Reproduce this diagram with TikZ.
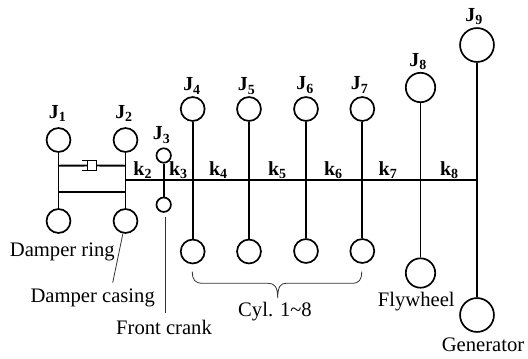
\documentclass[tikz,border=0pt]{standalone}
\usepackage{fontspec}
\setmainfont{Liberation Serif}
\usepackage{tikz}
\usetikzlibrary{calc}
\tikzset{
  disc/.style={circle, draw, line width=1.7pt, inner sep=0pt, fill=white},
  bigdisc/.style={disc, minimum size=24pt},
  smalldisc/.style={disc, minimum size=14.5pt},
  lab/.style={font=\fontsize{20.7}{22}\selectfont, inner sep=0pt},
  inertia/.style={font=\bfseries\fontsize{20}{22}\selectfont, inner sep=0pt},
  stiff/.style={font=\bfseries\fontsize{20}{22}\selectfont, inner sep=0pt},
  shaft/.style={line width=1.9pt},
  leader/.style={line width=0.8pt, black!80}
}
\begin{document}
\begin{tikzpicture}[x=1bp, y=-1bp]
\useasboundingbox (0,0) rectangle (528,358);
%shaft
\coordinate (shaftl) at (125.5,180.3);
\coordinate (shaftr) at (477,180.3);
\draw[shaft] (shaftl) -- (shaftr);
%upper discs
\node[bigdisc] (j1) at (58.5,140) {};
\node[bigdisc] (j2) at (125.5,140) {};
\node[smalldisc] (j3) at (163.7,155.5) {};
\node[bigdisc] (j4) at (192.7,109) {};
\node[bigdisc] (j5) at (249,109) {};
\node[bigdisc] (j6) at (306,109) {};
\node[bigdisc] (j7) at (362.3,109) {};
\node[disc, minimum size=29.5pt] (j8) at (420.5,87.5) {};
\node[disc, minimum size=34pt] (j9) at (477,45) {};
%lower discs
\node[bigdisc] (r1) at (58.5,221) {};
\node[bigdisc] (r2) at (125.5,221) {};
\node[smalldisc] (r3) at (163.7,204.7) {};
\node[bigdisc] (r4) at (192.7,251.5) {};
\node[bigdisc] (r5) at (249,251.5) {};
\node[bigdisc] (r6) at (306,251) {};
\node[bigdisc] (r7) at (362.3,251) {};
\node[disc, minimum size=29.5pt] (r8) at (420.5,273) {};
\node[disc, minimum size=34pt] (r9) at (477,315) {};
%vertical shafts
\foreach \n in {1,...,9}
  \draw[shaft] (j\n) -- (r\n);
%damper
\coordinate (d1t) at (58.5,165.7);
\coordinate (d2t) at (125.5,165.7);
\coordinate (d1b) at (58.5,192.3);
\coordinate (d2b) at (125.5,192.3);
\node[draw, line width=1.1pt, fill=white, minimum width=9pt, minimum height=9.5pt, inner sep=0pt] (cup) at (92,165.5) {};
\draw[shaft] (d1t) -- (cup) (cup) -- (d2t);
\draw[shaft] (d1b) -- (d2b);
\draw[line width=1.1pt] ($(cup.north west)+(-5,0)$) -- (cup.north west) ($(cup.south west)+(-5,0)$) -- (cup.south west);
%J labels
\node[inertia] (lj1) at (57.7,113.5) {J\textsubscript{1}};
\node[inertia] (lj2) at (124,113.5) {J\textsubscript{2}};
\node[inertia] (lj3) at (161.7,135) {J\textsubscript{3}};
\node[inertia] (lj4) at (192,86) {J\textsubscript{4}};
\node[inertia] (lj5) at (246.7,86) {J\textsubscript{5}};
\node[inertia] (lj6) at (305,85) {J\textsubscript{6}};
\node[inertia] (lj7) at (359.7,85) {J\textsubscript{7}};
\node[inertia] (lj8) at (418,61.7) {J\textsubscript{8}};
\node[inertia] (lj9) at (474,16.7) {J\textsubscript{9}};
%k labels
\node[stiff] (k2) at (142.7,170) {k\textsubscript{2}};
\node[stiff] (k3) at (178.3,170) {k\textsubscript{3}};
\node[stiff] (k4) at (218.3,170.5) {k\textsubscript{4}};
\node[stiff] (k5) at (277.3,170) {k\textsubscript{5}};
\node[stiff] (k6) at (333.3,170) {k\textsubscript{6}};
\node[stiff] (k7) at (388,170) {k\textsubscript{7}};
\node[stiff] (k8) at (449.3,170.5) {k\textsubscript{8}};
%names
\node[lab] (ring) at (62.3,252.3) {Damper ring};
\node[lab] (casing) at (92.7,298) {Damper casing};
\node[lab] (crank) at (164,327) {Front crank};
\node[lab] (cyl) at (275,311.7) {Cyl. 1\textasciitilde8};
\node[lab] (fly) at (416.3,301.7) {Flywheel};
\node[lab] (gen) at (483,345) {Generator};
%leaders
\coordinate (casingend) at (112.7,282.7);
\draw[leader] (r2) -- (casingend);
\coordinate (crankend) at (165,313.3);
\coordinate (crankstart) at (165,216.7);
\draw[leader] (crankstart) -- (crankend);
%brace
\coordinate (brl) at (192.3,271.5);
\coordinate (brr) at (361.7,271.5);
\coordinate (brm) at (277.7,298);
\draw[leader] (brl) .. controls (192.3,280) and (195,283.3) .. (203,283.3) -- (268,283.3)
  .. controls (274,283.3) and (277.7,286) .. (brm)
  .. controls (277.7,286) and (281,283.3) .. (286,283.3) -- (352,283.3)
  .. controls (359,283.3) and (361.7,280) .. (brr);
\end{tikzpicture}
\end{document}
